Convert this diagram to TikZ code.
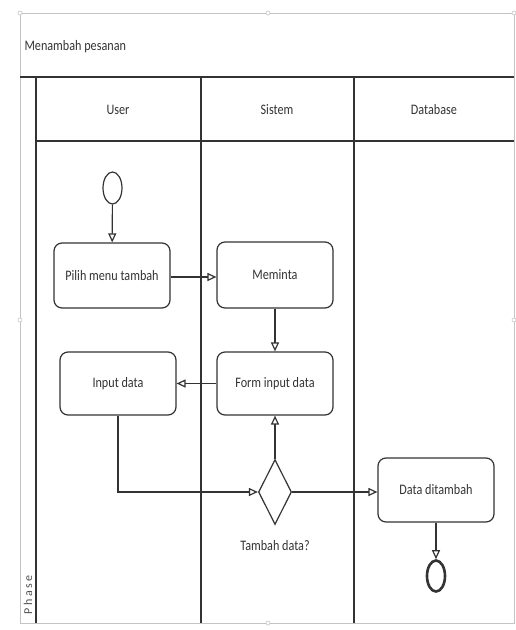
\documentclass[tikz,border=0pt]{standalone}
\usepackage{fontspec}
\setmainfont{Carlito}
\newfontfamily\diafont[FakeStretch=0.84]{Carlito}
\newfontfamily\phasefont[LetterSpace=20]{Carlito}
\usetikzlibrary{arrows.meta,shapes.geometric}
\definecolor{ink}{HTML}{333333}
\definecolor{frame}{HTML}{C4C4C4}
\begin{document}
\begin{tikzpicture}[x=1pt,y=-1pt,
  every node/.style={text=ink,font=\diafont\fontsize{14.5}{16}\selectfont},
  act/.style={draw=ink,line width=1.2pt,rounded corners=8pt,minimum width=116pt,inner sep=0pt},
  lane/.style={draw=ink,line width=1.3pt},
  flow/.style={draw=ink,line width=1.2pt,-{Triangle[open,length=9pt,width=8pt]}},
  handle/.style={draw=frame,fill=white,line width=0.6pt}]
\useasboundingbox (0,0) rectangle (516,630);
\fill[white] (0,0) rectangle (516,630);
% outer frame and title area
\draw[frame,line width=1pt] (20,13) rectangle (514,623);
\node[anchor=west] (title) at (21,47) {Menambah pesanan};
\draw[lane] (20,77) -- (514,77);
\draw[lane] (36,77) -- (36,623);
\draw[lane] (36,141) -- (514,141);
\draw[lane] (201,77) -- (201,623);
\draw[lane] (354,77) -- (354,623);
\draw[frame,line width=1pt] (20,623) -- (514,623);
% headers
\node (huser) at (118,110) {User};
\node (hsistem) at (277,110) {Sistem};
\node (hdb) at (434,110) {Database};
\node[rotate=90,font=\phasefont\fontsize{12}{13}\selectfont,text=ink!85] (phase) at (28,595) {Phase};
% handles
\foreach \p in {(20,13),(268,13),(514,13),(20,320),(514,320),(268,623)}
  \draw[handle] \p circle (2pt);
% nodes
\node[ellipse,draw=ink,line width=1.2pt,minimum width=19pt,minimum height=32pt,inner sep=0pt] (start) at (112.5,188) {};
\node[act,minimum height=65pt] (pilih) at (112,275.5) {Pilih menu tambah};
\node[act,minimum height=66pt] (meminta) at (275,275) {Meminta};
\node[act,minimum height=63pt] (form) at (275,383.5) {Form input data};
\node[act,minimum height=63pt] (input) at (118,383.5) {Input data};
\node[diamond,draw=ink,line width=1.2pt,minimum width=33pt,minimum height=65pt,inner sep=0pt] (dec) at (275,492) {};
\node (declabel) at (275,546) {Tambah data?};
\node[act,minimum height=64pt] (data) at (436,490) {Data ditambah};
\node[ellipse,draw=ink,line width=2.6pt,minimum width=18pt,minimum height=31pt,inner sep=0pt] (end) at (436,576) {};
% connectors
\draw[flow] (start) -- (pilih);
\draw[flow] (pilih.east |- 0,277) -- (meminta.west |- 0,277);
\draw[flow] (meminta) -- (form);
\draw[flow] (form) -- (input);
\draw[flow] (input.south) |- (dec.west);
\draw[flow] (dec) -- (form);
\draw[flow] (dec.east) -- (data.west |- dec.east);
\draw[flow] (data) -- (end);
\end{tikzpicture}
\end{document}
